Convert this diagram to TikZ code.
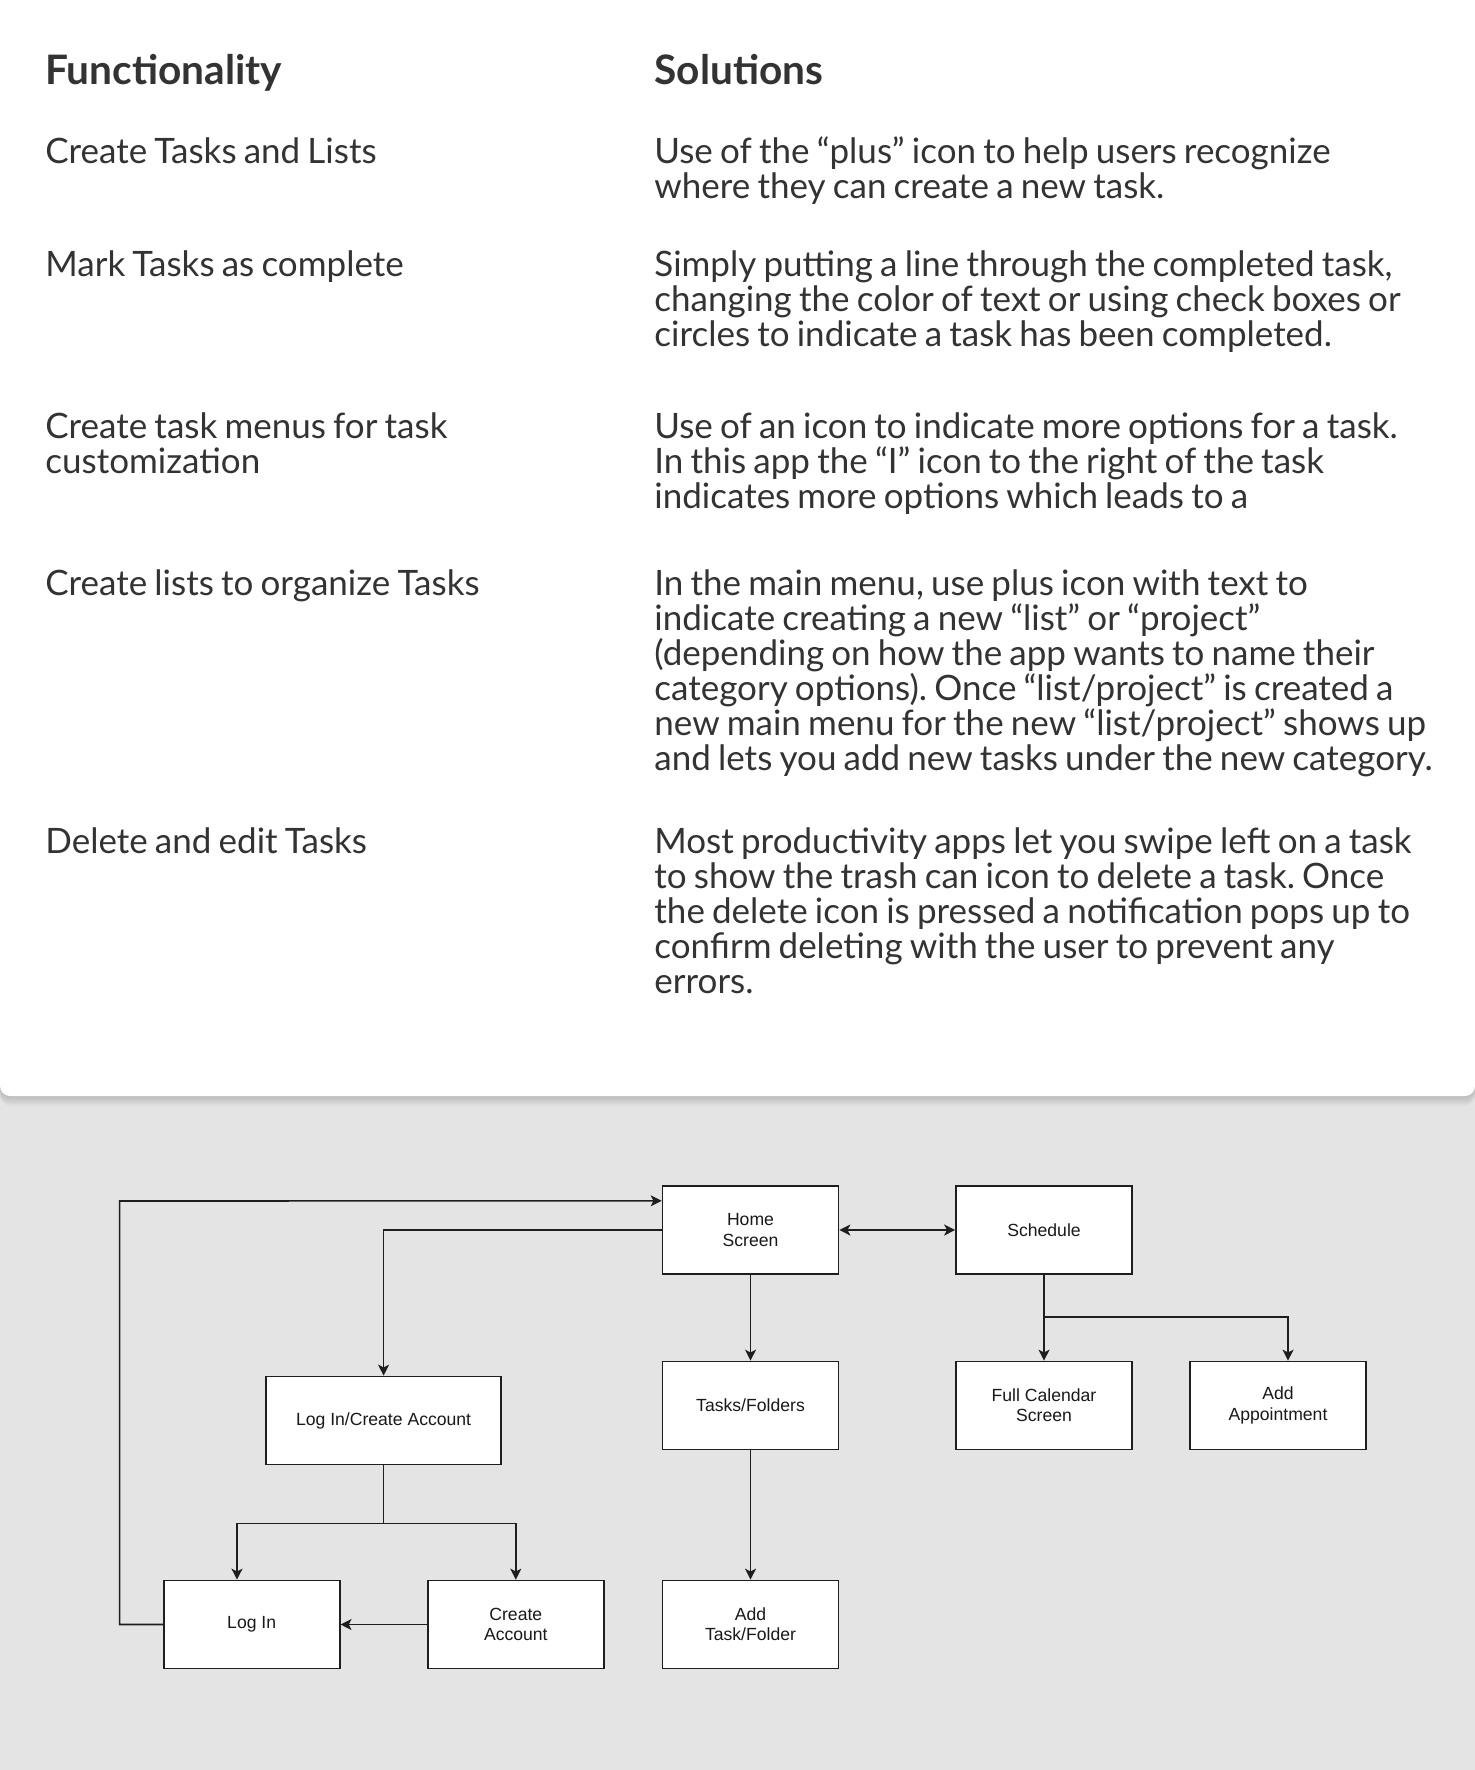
\documentclass[tikz,border=0pt]{standalone}
\usepackage{fontspec}
\setmainfont{Lato}[WordSpace=0.8]
\newfontfamily\diafont{Liberation Sans}
\usetikzlibrary{arrows.meta}
\frenchspacing
\definecolor{bgc}{RGB}{228,228,228}
\definecolor{txt}{RGB}{51,51,51}
\definecolor{boxc}{RGB}{30,30,30}
\definecolor{diatxt}{RGB}{25,25,25}
\tikzset{
  body/.style={anchor=base west, inner sep=0pt, text=txt, font=\frenchspacing\fontsize{17.5}{20}\selectfont},
  head/.style={anchor=base west, inner sep=0pt, text=txt, font=\bfseries\fontsize{20.3}{23}\selectfont},
  box/.style={draw=boxc, fill=white, line width=0.85pt, minimum width=88pt, minimum height=44pt,
    inner sep=0pt, align=center, text=diatxt, font=\diafont\fontsize{8.8}{10.15}\selectfont},
  conn/.style={draw=boxc, line width=0.8pt, -{Stealth[length=5.5pt,width=5.5pt,inset=1.4pt]}},
  conn2/.style={draw=boxc, line width=0.8pt, {Stealth[length=5.5pt,width=5.5pt,inset=1.4pt]}-{Stealth[length=5.5pt,width=5.5pt,inset=1.4pt]}},
  plain/.style={draw=boxc, line width=0.8pt}
}
\begin{document}
\begin{tikzpicture}[x=0.5pt,y=-0.5pt]
\useasboundingbox (0,0) rectangle (1475,1770);
\fill[bgc] (0,0) rectangle (1475,1770);
% shadow of the panel
\foreach \i in {1,...,7}{
  \fill[black, opacity=0.025, rounded corners=5pt] (0,-60) rectangle (1475,1096+1.4*\i);
}
\fill[white, rounded corners=5pt] (0,-60) rectangle (1475,1096);

% headers
\node[head] (hf) at (45,85) {Functionality};
\node[head] (hs) at (654,85) {Solutions};

% left column
\node[body] (l1) at (45,163.4) {Create Tasks and Lists};
\node[body] (l2) at (45,276.2) {Mark Tasks as complete};
\node[body] (l3a) at (45,438.7) {Create task menus for task};
\node[body] (l3b) at (45,473.7) {customization};
\node[body] (l4) at (45,595.6) {Create lists to organize Tasks};
\node[body] (l5) at (45,853) {Delete and edit Tasks};

% right column
\node[body] (r1) at (654,163.4) {Use of the “plus” icon to help users recognize};
\node[body] (r2) at (654,198.4) {where they can create a new task.};
\node[body] (r3) at (654,276.2) {Simply putting a line through the completed task,};
\node[body] (r4) at (654,311.2) {changing the color of text or using check boxes or};
\node[body] (r5) at (654,346.2) {circles to indicate a task has been completed.};
\node[body] (r6) at (654,438.7) {Use of an icon to indicate more options for a task.};
\node[body] (r7) at (654,473.7) {In this app the “I” icon to the right of the task};
\node[body] (r8) at (654,508.7) {indicates more options which leads to a};
\node[body] (r9) at (654,595.6) {In the main menu, use plus icon with text to};
\node[body] (r10) at (654,630.6) {indicate creating a new “list” or “project”};
\node[body] (r11) at (654,665.6) {(depending on how the app wants to name their};
\node[body] (r12) at (654,700.6) {category options). Once “list/project” is created a};
\node[body] (r13) at (654,735.6) {new main menu for the new “list/project” shows up};
\node[body] (r14) at (654,770.6) {and lets you add new tasks under the new category.};
\node[body] (r15) at (654,853) {Most productivity apps let you swipe left on a task};
\node[body] (r16) at (654,888) {to show the trash can icon to delete a task. Once};
\node[body] (r17) at (654,923) {the delete icon is pressed a notification pops up to};
\node[body] (r18) at (654,958) {confirm deleting with the user to prevent any};
\node[body] (r19) at (654,993) {errors.};

% diagram boxes
\node[box] (home) at (750.5,1230) {Home\\Screen};
\node[box] (sched) at (1044,1230) {Schedule};
\node[box] (tasks) at (750.5,1405.5) {Tasks/Folders};
\node[box] (fullcal) at (1044,1405.5) {Full Calendar\\Screen};
\node[box] (addappt) at (1278,1405.5) {Add\\Appointment};
\node[box, minimum width=117.5pt] (lica) at (383.6,1420.5) {Log In/Create Account};
\node[box] (login) at (251.7,1624.5) {Log In};
\node[box] (create) at (515.8,1624.5) {Create\\Account};
\node[box] (addtask) at (750.5,1624.5) {Add\\Task/Folder};

% helper coordinates
\coordinate (loopbot) at (119.6,1624.5);
\coordinate (looptop) at (119.6,1201);
\coordinate (hin) at ([yshift=14.6pt]home.west);
\coordinate (ssplit) at (1044,1317);
\coordinate (lsplit) at (383.6,1523.6);

% connectors
\draw[conn] (login.west) -- (loopbot) -- (looptop) -- (hin);
\draw[conn] (home.west) -| (lica.north);
\draw[conn2] (home.east) -- (sched.west);
\draw[conn] (home.south) -- (tasks.north);
\draw[conn] (tasks.south) -- (addtask.north);
\draw[conn] (sched.south) -- (fullcal.north);
\draw[conn] (ssplit) -| ([xshift=5pt]addappt.north);
\draw[plain] (lica.south) -- (lsplit);
\draw[conn] (lsplit) -| ([xshift=-7.35pt]login.north);
\draw[conn] (lsplit) -| (create.north);
\draw[conn] (create.west) -- (login.east);
\end{tikzpicture}
\end{document}
